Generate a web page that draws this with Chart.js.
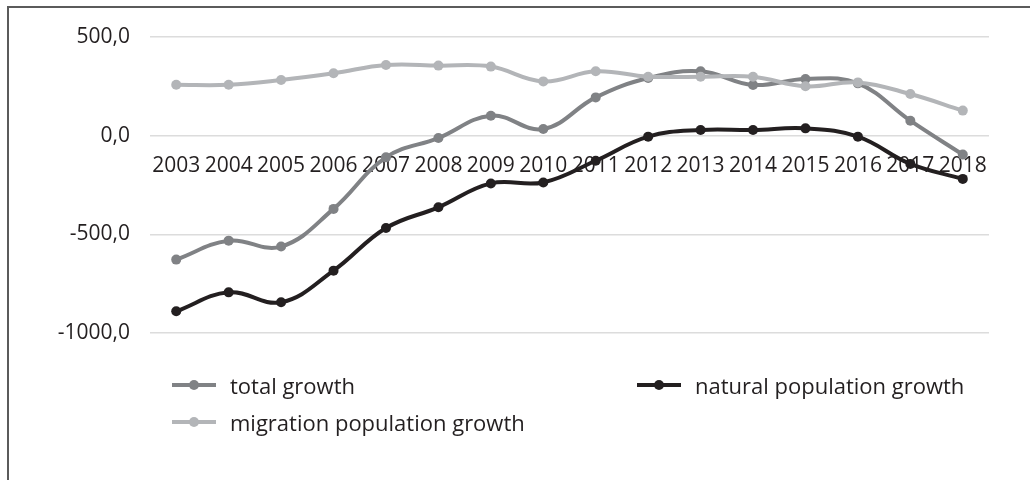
<!DOCTYPE html>
<html>
<head>
<meta charset="utf-8">
<script src="https://cdn.jsdelivr.net/npm/chart.js@4/dist/chart.umd.min.js"></script>
<style>
    body { margin: 0; background: #fff; overflow: hidden; font-family: "Open Sans", sans-serif; }
    .wrap { position: relative; width: 1030px; height: 480px; overflow: hidden; }
    .frame { position: absolute; left: 7px; top: 6px; width: 1200px; height: 800px; border: 2px solid #5b5b5b; }
    #growthChart { position: absolute; left: 0; top: 0; }
    .legend-item { position: absolute; display: flex; align-items: center; font-size: 22px; color: #231f20; white-space: nowrap; }
    .legend-mark { position: relative; width: 44px; height: 4px; margin-right: 14px; }
    .legend-mark span { position: absolute; left: 17px; top: -3px; width: 10px; height: 10px; border-radius: 50%; }
</style>
</head>
<body>
<div class="wrap">
    <div class="frame"></div>
    <canvas id="growthChart" width="1030" height="480"></canvas>
    <div id="legend"></div>
</div>
<script>
const years = ["2003", "2004", "2005", "2006", "2007", "2008", "2009", "2010", "2011", "2012", "2013", "2014", "2015", "2016", "2017", "2018"];

const totalGrowth = [-628, -532, -562, -371, -110, -12, 101, 34, 194, 292, 326, 257, 287, 265, 76, -96];
const naturalGrowth = [-890, -794, -844, -684, -468, -363, -242, -237, -127, -5, 29, 29, 37, -5, -143, -219];
const migrationGrowth = [258, 258, 282, 316, 358, 355, 350, 275, 326, 299, 299, 299, 250, 270, 211, 127];

const yTicks = [-1000, -500, 0, 500];

// legend spots
const legendSpots = [
    { left: 172, top: 370 },
    { left: 637, top: 370 },
    { left: 172, top: 407 }
];

function makeSet(label, data, color, order) {
    return {
        label: label,
        data: data,
        borderColor: color,
        backgroundColor: color,
        borderWidth: 4,
        pointRadius: 5,
        pointBorderWidth: 0,
        pointBackgroundColor: color,
        tension: 0.4,
        order: order
    };
}

const chart = new Chart("growthChart", {
    type: "line",
    data: {
        labels: years,
        datasets: [
            makeSet("total growth", totalGrowth, "#808285", 2),
            makeSet("natural population growth", naturalGrowth, "#231f20", 1),
            makeSet("migration population growth", migrationGrowth, "#b3b5b8", 0)
        ]
    },
    options: {
        responsive: false,
        animation: false,
        layout: {
            padding: { top: 37, right: 41, bottom: 147, left: 0 }
        },
        plugins: {
            legend: { display: false },
            tooltip: { enabled: false }
        },
        scales: {
            x: {
                type: "category",
                offset: true,
                position: { y: 0 },
                grid: { display: false },
                border: { display: false },
                ticks: {
                    autoSkip: false,
                    maxRotation: 0,
                    padding: 10,
                    color: "#231f20",
                    font: { family: "Open Sans", size: 21 }
                }
            },
            y: {
                min: yTicks[0],
                max: yTicks[yTicks.length - 1],
                afterBuildTicks: (scale) => {
                    scale.ticks = yTicks.map(v => ({ value: v }));
                },
                afterFit: (scale) => {
                    scale.width = 150;
                },
                grid: { color: "#dcdcdc", lineWidth: 1.5, drawTicks: false },
                border: { display: false },
                ticks: {
                    padding: 20,
                    color: "#231f20",
                    font: { family: "Open Sans", size: 21 },
                    callback: (v) => v.toFixed(1).replace(".", ",")
                }
            }
        }
    }
});

function showLegend() {
    const box = document.getElementById("legend");
    chart.data.datasets.forEach((ds, i) => {
        const item = document.createElement("div");
        item.className = "legend-item";
        item.style.left = legendSpots[i].left + "px";
        item.style.top = legendSpots[i].top + "px";
        item.innerHTML = `<div class="legend-mark" style="background:${ds.borderColor}"><span style="background:${ds.borderColor}"></span></div>${ds.label}`;
        box.appendChild(item);
    });
}

showLegend();
</script>
</body>
</html>
